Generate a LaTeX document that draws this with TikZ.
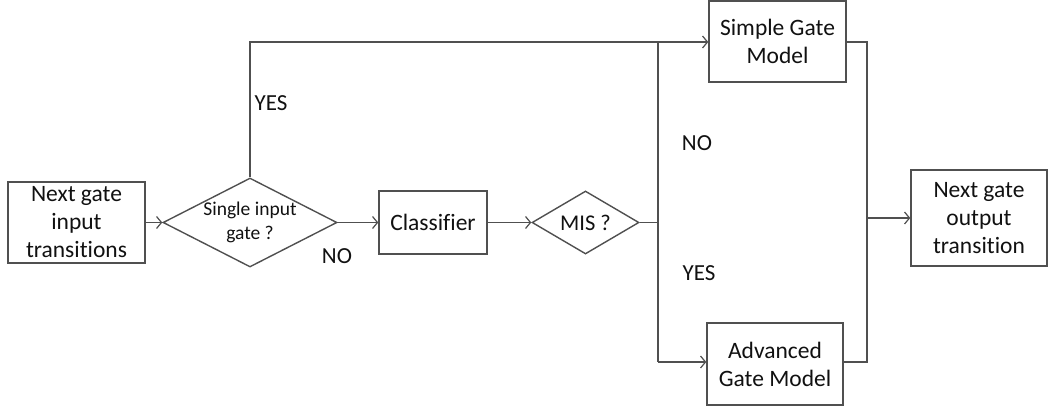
\documentclass[tikz,border=0pt]{standalone}
\usepackage{fontspec}
\setmainfont[Ligatures=NoCommon]{Carlito}
\usetikzlibrary{shapes.geometric,arrows.meta}
\definecolor{linegray}{HTML}{505050}
\definecolor{txt}{HTML}{111111}
\begin{document}
\begin{tikzpicture}[x=1pt,y=-1pt,
  every node/.style={text=txt},
  proc/.style={draw=linegray,line width=1.4pt,fill=white,inner sep=0pt,align=center,
    font=\fontsize{23.5}{28}\selectfont},
  decide/.style={diamond,draw=linegray,line width=1.4pt,fill=white,inner sep=0pt,align=center},
  flow/.style={draw=linegray,line width=1.4pt},
  arr/.style={flow,-{Straight Barb[length=5pt,width=12pt,line width=1.2pt]}},
  lbl/.style={font=\fontsize{23}{26}\selectfont,inner sep=0pt}]
\useasboundingbox (0,0) rectangle (1049,407);

% process boxes
\node[proc,minimum width=137pt,minimum height=81pt] (inp) at (76.5,222.5) {Next gate\\input\\transitions};
\node[proc,minimum width=108pt,minimum height=63pt] (cls) at (433,222.5) {Classifier};
\node[proc,minimum width=137pt,minimum height=81pt] (sgm) at (777.5,41.5) {Simple Gate\\Model};
\node[proc,minimum width=136pt,minimum height=82pt] (agm) at (775,364) {Advanced\\Gate Model};
\node[proc,minimum width=136pt,minimum height=96pt] (out) at (979,218) {Next gate\\output\\transition};

% decisions
\node[decide,shape aspect=1.95,minimum width=174pt,minimum height=89pt,font=\fontsize{19.5}{24}\selectfont] (single) at (250,222.5) {Single input\\gate ?};
\node[decide,shape aspect=1.7,minimum width=107pt,minimum height=63pt,font=\fontsize{22.5}{26}\selectfont] (mis) at (585.5,222.5) {MIS ?};

% junction points
\coordinate (split) at (658,222.5);
\coordinate (splitT) at (658,42);
\coordinate (splitB) at (658,362);
\coordinate (mergeT) at (867,42);
\coordinate (mergeB) at (867,362);
\coordinate (merge) at (867,218);

% connectors
\draw[arr] (inp.east) -- (single.west);
\draw[arr] (single.east) -- (cls.west);
\draw[arr] (cls.east) -- (mis.west);
\draw[arr] (single.north) |- (sgm.west |- splitT);
\draw[flow] (mis.east) -- (split);
\draw[flow] (splitT) -- (splitB);
\draw[arr] (splitB) -- (agm.west |- splitB);
\draw[flow] (sgm.east |- mergeT) -- (mergeT) -- (mergeB) -- (agm.east |- mergeB);
\draw[arr] (merge) -- (out.west |- merge);

% branch labels
\node[lbl] (yes1) at (271,103) {YES};
\node[lbl] (no1) at (337,256) {NO};
\node[lbl] (no2) at (697,143) {NO};
\node[lbl] (yes2) at (699,273) {YES};
\end{tikzpicture}
\end{document}
